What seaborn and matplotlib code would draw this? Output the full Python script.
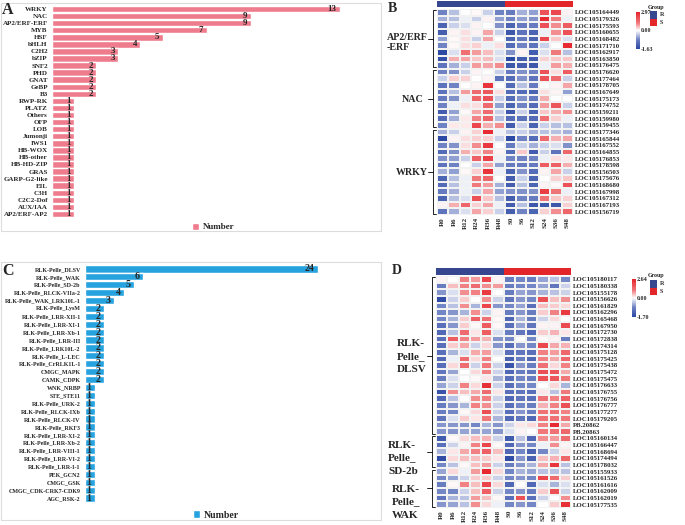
import matplotlib
matplotlib.use('Agg')
import numpy as np
import pandas as pd
import matplotlib.pyplot as plt
import seaborn as sns
from matplotlib.colors import LinearSegmentedColormap, ListedColormap, TwoSlopeNorm
from matplotlib.patches import Rectangle, Patch

# ---------------- data ----------------
tf_families = ['WRKY', 'NAC', 'AP2/ERF-ERF', 'MYB', 'HSF', 'bHLH', 'C2H2', 'bZIP',
               'SNF2', 'PHD', 'GNAT', 'GeBP', 'B3', 'RWP-RK', 'PLATZ', 'Others',
               'OFP', 'LOB', 'Jumonji', 'IWS1', 'HB-WOX', 'HB-other', 'HB-HD-ZIP',
               'GRAS', 'GARP-G2-like', 'EIL', 'C3H', 'C2C2-Dof', 'AUX/IAA', 'AP2/ERF-AP2']
tf_counts = [13, 9, 9, 7, 5, 4, 3, 3, 2, 2, 2, 2, 2,
             1, 1, 1, 1, 1, 1, 1, 1, 1, 1, 1, 1, 1, 1, 1, 1, 1]

kinase_families = ['RLK-Pelle_DLSV', 'RLK-Pelle_WAK', 'RLK-Pelle_SD-2b',
                   'RLK-Pelle_RLCK-VIIa-2', 'RLK-Pelle_WAK_LRK10L-1', 'RLK-Pelle_LysM',
                   'RLK-Pelle_LRR-XII-1', 'RLK-Pelle_LRR-XI-1', 'RLK-Pelle_LRR-Xb-1',
                   'RLK-Pelle_LRR-III', 'RLK-Pelle_LRK10L-2', 'RLK-Pelle_L-LEC',
                   'RLK-Pelle_CrRLK1L-1', 'CMGC_MAPK', 'CAMK_CDPK', 'WNK_NRBP',
                   'STE_STE11', 'RLK-Pelle_URK-2', 'RLK-Pelle_RLCK-IXb',
                   'RLK-Pelle_RLCK-IV', 'RLK-Pelle_RKF3', 'RLK-Pelle_LRR-XI-2',
                   'RLK-Pelle_LRR-Xb-2', 'RLK-Pelle_LRR-VIII-1', 'RLK-Pelle_LRR-VI-2',
                   'RLK-Pelle_LRR-I-1', 'PEK_GCN2', 'CMGC_GSK', 'CMGC_CDK-CRK7-CDK9',
                   'AGC_RSK-2']
kinase_counts = [24, 6, 5, 4, 3, 2, 2, 2, 2, 2, 2, 2, 2, 2, 2,
                 1, 1, 1, 1, 1, 1, 1, 1, 1, 1, 1, 1, 1, 1, 1]

samples = ['R0', 'R6', 'R12', 'R24', 'R36', 'R48', 'S0', 'S6', 'S12', 'S24', 'S36', 'S48']

erf_genes = ['LOC105164449', 'LOC105179326', 'LOC105175593', 'LOC105160655', 'LOC105168482',
             'LOC105171710', 'LOC105162917', 'LOC105163850', 'LOC105176475']
erf_expr = [
    [-0.8, -0.4, 0.0, 0.05, -0.3, -0.8, -0.9, -0.5, -0.6, 2.0, 2.2, 0.1],
    [-0.5, -0.4, -0.1, -0.3, 0.1, -0.6, -0.8, -0.6, -0.7, 2.8, 1.2, -0.1],
    [-1.2, -0.3, -0.2, 0.1, 0.0, -0.7, -1.2, -0.9, -0.9, 2.0, 1.0, 1.8],
    [-1.3, 0.1, 0.3, 0.1, 0.8, -0.3, -1.4, -1.0, -1.2, -0.1, 1.0, 2.0],
    [-0.6, 0.05, 0.3, -0.3, 0.8, 0.0, -1.2, -0.9, -1.2, 2.2, 0.5, -0.2],
    [-0.8, 0.05, 0.3, 0.4, -0.1, 0.3, -1.1, -0.8, -1.0, -0.3, 0.0, 2.8],
    [-1.6, -0.2, 1.4, 0.9, 0.6, -0.2, -0.7, 0.1, -1.3, -0.2, 1.2, -0.4],
    [-1.5, 0.7, 0.8, 0.5, 0.6, -0.2, -1.6, -1.3, -1.3, 0.4, 0.5, 0.5],
    [-1.0, -0.5, -0.3, 0.9, 0.8, 1.0, -1.4, -1.3, -1.4, -0.1, 0.9, 0.7],
]
nac_genes = ['LOC105176620', 'LOC105177464', 'LOC105178705', 'LOC105167649', 'LOC105175173',
             'LOC105174752', 'LOC105159211', 'LOC105159980', 'LOC105159455']
nac_expr = [
    [-0.8, -0.7, -0.3, 0.1, 0.0, -0.3, -0.9, -0.7, -0.8, 2.0, 0.3, 1.8],
    [-0.3, 0.4, 0.4, 0.0, 0.1, -1.0, -1.1, -0.7, -1.0, 2.0, 1.5, -0.3],
    [-1.0, -0.8, 0.0, 0.1, 2.6, 0.0, -1.1, -0.4, -0.9, 0.0, 0.1, 0.8],
    [-1.0, -0.4, 0.9, 1.5, 1.9, 0.3, -1.1, -1.1, -1.2, 0.3, 0.1, -0.6],
    [-0.9, -0.7, -0.1, 1.6, 2.0, -0.3, -1.1, -0.7, -0.9, 0.7, 0.0, 0.0],
    [-0.8, -0.1, 0.3, 0.3, 1.5, -0.6, -1.2, -0.8, -1.1, 0.9, 1.9, -0.3],
    [-1.3, -0.6, 0.05, 0.8, 1.5, -0.3, -1.4, -0.3, -1.2, 0.5, 0.7, 1.0],
    [-1.1, -0.5, 0.2, 1.1, 1.6, -0.4, -1.1, -1.0, -1.1, 1.4, 0.4, -0.1],
    [-0.8, 0.2, 0.2, 2.2, 0.7, 1.0, -1.3, -0.3, -1.2, -0.3, -0.4, -0.4],
]
wrky_genes = ['LOC105177346', 'LOC105165844', 'LOC105167552', 'LOC105164855', 'LOC105176853',
              'LOC105178598', 'LOC105156503', 'LOC105175676', 'LOC105168680', 'LOC105167998',
              'LOC105167312', 'LOC105167193', 'LOC105156719']
wrky_expr = [
    [-0.5, -0.3, 0.1, 0.4, 2.8, -0.1, -0.4, -0.3, -0.5, -0.4, -0.4, -0.5],
    [-1.6, 0.1, 0.3, 0.4, 0.4, -0.3, -1.6, -0.8, -1.1, 1.5, 0.7, 0.8],
    [-0.8, -0.7, 0.3, 1.0, 2.5, 0.0, -0.9, -0.3, -0.5, -0.3, -0.2, -0.7],
    [-1.1, -0.7, 0.7, 0.5, 1.1, 0.1, -1.1, 0.5, -1.3, -0.3, -1.0, 1.6],
    [-0.7, -0.6, -0.3, 1.7, 2.3, -0.1, -0.8, -0.8, -0.8, -0.1, 0.3, 0.2],
    [-1.0, -0.8, 0.0, -0.3, 0.8, -0.6, -0.9, -0.9, -0.9, 1.8, 1.7, 0.7],
    [-0.5, -0.6, 0.05, 0.4, 2.6, -0.1, -1.2, -0.7, -1.1, 0.1, 0.8, -0.3],
    [-1.2, -0.4, -0.1, 1.2, 1.6, 0.0, -1.3, -0.3, -1.2, 0.0, 0.4, 0.5],
    [-1.1, -0.4, -0.1, 1.2, 0.9, -0.5, -1.3, -0.4, -1.2, 0.1, 0.05, 2.0],
    [-0.9, -0.5, -0.1, -0.3, 0.8, -0.6, -0.7, -0.7, -0.7, 2.4, 1.3, -0.1],
    [-1.2, -0.4, -0.2, 2.0, 0.5, -0.4, -1.3, -0.8, -0.9, 1.3, 0.5, 0.4],
    [0.1, 0.7, 1.6, 0.4, 0.8, -0.1, -1.3, -0.4, -1.4, -1.4, -1.4, 0.4],
    [-1.0, -0.5, -0.2, 0.8, 0.4, -0.3, -1.3, -0.8, -1.2, 0.4, 1.0, 1.6],
]

dlsv_genes = ['LOC105180117', 'LOC105180338', 'LOC105155178', 'LOC105156626', 'LOC105161829',
              'LOC105162296', 'LOC105165468', 'LOC105167950', 'LOC105172730', 'LOC105172838',
              'LOC105174314', 'LOC105175128', 'LOC105175425', 'LOC105175438', 'LOC105175472',
              'LOC105175475', 'LOC105176633', 'LOC105176755', 'LOC105176756', 'LOC105176777',
              'LOC105177277', 'LOC105179205', 'PB.20862', 'PB.20863']
dlsv_expr = [
    [0.1, 0.0, 1.0, 0.8, 2.0, 0.1, -0.9, -0.8, -0.9, -0.6, -0.4, -0.8],
    [-0.9, 0.5, 1.0, 1.3, 0.9, 0.8, -0.9, -0.8, -0.8, -0.6, -1.0, -0.3],
    [-0.7, -0.2, 0.9, 1.0, 2.2, 0.0, -0.9, -0.6, -0.7, -0.5, -0.4, -0.3],
    [-1.6, -0.3, 0.4, 0.0, 0.9, -0.3, -1.0, -0.7, -0.8, 1.8, 0.5, 0.9],
    [-0.8, -0.4, 0.9, -0.5, 2.0, -0.7, -0.8, -0.6, -1.1, 0.5, 0.4, 0.3],
    [-0.8, -0.7, -0.5, 0.9, -0.3, 0.1, -0.9, -0.7, -0.9, 0.4, 1.0, 2.2],
    [-0.8, -0.5, 0.4, 1.5, 1.2, 0.05, -1.2, -0.5, -0.9, -0.3, 0.3, 0.0],
    [-1.1, -0.7, 0.4, 0.05, 1.6, 0.05, -1.1, -0.6, -1.0, 0.1, 0.1, 1.9],
    [-1.2, -0.4, 1.3, 0.2, 1.6, -0.2, -0.9, -1.0, -1.2, 0.4, 0.6, 0.2],
    [-1.1, 1.6, 1.0, 0.8, 0.6, -0.7, -0.8, 0.0, -0.8, 0.05, 0.1, -0.9],
    [-1.1, 0.4, 0.7, -0.3, 0.3, -0.7, -1.1, -0.7, -0.8, 2.0, 0.7, 0.6],
    [-1.1, -0.5, -0.2, 0.7, 0.8, -0.2, -1.1, -1.0, -1.1, 1.0, 0.8, 1.4],
    [-1.2, -0.1, 1.3, 0.3, 1.0, 0.0, -1.3, -0.9, -1.2, 1.0, 0.7, 1.4],
    [-1.1, 0.3, 1.3, -0.3, 1.1, -0.3, -1.5, -0.7, -0.9, 1.2, 0.3, 1.0],
    [-1.0, -0.6, 0.0, 0.3, 1.0, -0.3, -1.2, -0.9, -1.0, 1.8, 1.7, 0.7],
    [-0.9, -0.2, 0.0, 0.05, 0.2, -0.5, -1.1, -0.8, -0.9, 1.8, 1.7, 1.1],
    [-0.6, -0.3, 1.0, 0.3, 2.4, -0.3, -1.1, -0.8, -0.8, 0.0, 0.3, -0.5],
    [-1.5, 0.9, 0.5, 0.7, 1.3, 0.2, -1.1, -1.0, -1.1, 0.2, -0.4, 1.1],
    [-1.2, -0.4, 0.0, 0.9, 1.0, -0.3, -1.2, -1.0, -1.1, 1.2, 1.0, 1.5],
    [-0.9, -0.7, -0.5, 1.0, 0.9, -0.3, -1.1, -0.8, -0.9, 0.6, 1.0, 1.8],
    [-0.9, -0.8, 0.05, 0.3, 1.8, -0.3, -1.1, -0.7, -0.9, 1.2, 1.2, 1.0],
    [-1.0, -0.2, 0.4, 0.2, 1.1, -0.5, -1.2, -1.0, -1.2, 1.2, 1.2, 1.1],
    [-0.7, -0.7, -0.7, -0.8, -0.5, -0.7, -0.3, 0.2, 0.3, 1.0, 2.5, 0.7],
    [-0.7, -0.7, -0.6, -0.6, -0.6, -0.7, -0.2, 0.1, 0.0, 1.1, 1.2, 1.4],
]
sd2b_genes = ['LOC105160134', 'LOC105166447', 'LOC105168694', 'LOC105174494', 'LOC105178032']
sd2b_expr = [
    [-1.4, 0.05, 0.3, 0.5, 0.6, -0.3, -1.4, -0.4, -1.2, 0.9, 0.8, 1.3],
    [-1.1, -0.3, 0.1, 1.0, 2.0, 0.05, -1.2, -0.7, -0.8, -0.1, 0.9, 0.1],
    [-0.5, 0.2, 0.7, 1.0, 1.5, 0.5, -1.2, -0.8, -1.3, -0.8, -0.3, 0.2],
    [-1.6, 0.3, 0.5, 0.5, 0.4, 0.2, -1.6, -0.7, -1.3, 0.5, 0.6, 1.4],
    [-0.8, -0.4, 0.05, 0.5, 0.8, -0.3, -0.9, -0.7, -0.5, 0.7, 2.3, -0.4],
]
wak_genes = ['LOC105155933', 'LOC105161526', 'LOC105161616', 'LOC105162009', 'LOC105162019',
             'LOC105177535']
wak_expr = [
    [-0.6, 0.3, -0.1, 0.8, 2.5, 0.3, -0.8, -0.5, -0.6, -0.4, -0.4, -0.4],
    [-0.8, -0.6, -0.3, 0.4, 0.4, -0.3, -0.8, -0.7, -0.8, 2.0, 1.3, 0.4],
    [-0.9, 0.05, 1.0, 0.5, 2.0, 0.3, -1.2, 0.0, -1.2, -0.2, -0.5, -0.2],
    [-0.8, -0.8, -0.3, 0.5, 1.5, -0.3, -0.8, -0.7, -0.9, 0.4, 1.8, -0.3],
    [-1.0, -0.5, -0.4, 0.8, 0.5, 0.05, -1.1, 1.8, -1.1, -0.3, 0.0, 0.9],
    [-0.7, -0.6, -0.4, 0.9, 0.3, -0.1, -0.8, -0.7, -0.8, 0.0, 0.4, 2.4],
]
range_b = (-1.63, 2.97)
range_d = (-1.70, 2.64)

# ---------------- style ----------------
W, H = 685, 525
PINK = '#EE7C8C'
BLUE = '#26A3DE'
NAVY = '#36478F'
RED = '#E3262A'
# steeper near white so mid values read as in the original
heat_cmap = LinearSegmentedColormap.from_list(
    'bwr_heat', [(0.0, '#2A47A2'), (0.25, '#6C80C2'), (0.5, '#FFFFFF'),
                 (0.7, '#F07A7D'), (1.0, '#E6222A')])

sns.set_theme(style='white')
plt.rcParams['font.family'] = ['Liberation Serif', 'DejaVu Serif']
plt.rcParams['font.weight'] = 'bold'

fig = plt.figure(figsize=(W / 100, H / 100), dpi=100)


def px(x, y):
    return x / W, 1 - y / H


def ftext(x, y, s, **kw):
    fx, fy = px(x, y)
    fig.text(fx, fy, s, **kw)


def box(left, top, right, bottom):
    return [left / W, 1 - bottom / H, (right - left) / W, (bottom - top) / H]


def draw_bars(rect, names, counts, color, xmax, label_fs, value_fs, legend_pos, legend_fs):
    ax = fig.add_axes(rect)
    df = pd.DataFrame({'family': names, 'count': counts, 'series': 'Number'})
    sns.barplot(data=df, x='count', y='family', hue='series', palette={'Number': color},
                width=0.92, saturation=1, legend=False, ax=ax)
    ax.set_xlim(0, xmax)
    ax.set_xticks([])
    ax.set_xlabel('')
    ax.set_ylabel('')
    sns.despine(ax=ax, left=True, bottom=True)
    ax.tick_params(axis='y', length=0, pad=3, labelsize=label_fs)
    for i, v in enumerate(counts):
        ax.annotate(str(v), xy=(v, i), xytext=(-2.5, 0), textcoords='offset points',
                    ha='right', va='center', fontsize=value_fs, fontweight='bold')
    ax.legend(handles=[Patch(facecolor=color, label='Number')], loc='center',
              bbox_to_anchor=px(*legend_pos), bbox_transform=fig.transFigure,
              frameon=False, fontsize=legend_fs, handlelength=0.8, handleheight=0.8,
              handletextpad=0.4, borderpad=0)
    return ax


def draw_heatmap(blocks, rect, group_rect, cbar_rect, vrange):
    genes = [g for names, _ in blocks for g in names]
    values = [row for _, mat in blocks for row in mat]
    df = pd.DataFrame(values, index=genes, columns=samples)
    ax = fig.add_axes(rect)
    cax = fig.add_axes(cbar_rect)
    norm = TwoSlopeNorm(vmin=vrange[0], vcenter=0, vmax=vrange[1])
    sns.heatmap(df, cmap=heat_cmap, norm=norm, ax=ax, cbar_ax=cax,
                xticklabels=True, yticklabels=True, linewidths=0.15, linecolor='#f2f2f2')
    ax.yaxis.tick_right()
    ax.set_yticklabels(genes, rotation=0, fontsize=4.9)
    ax.set_xticklabels(samples, rotation=90, fontsize=5)
    ax.tick_params(axis='both', length=0, pad=1.5)
    ax.set_xlabel('')
    ax.set_ylabel('')
    cbar = ax.collections[0].colorbar
    cbar.set_ticks([vrange[0], 0, vrange[1]])
    cbar.set_ticklabels(['%.2f' % vrange[0], '0.00', '%.2f' % vrange[1]])
    cbar.ax.tick_params(labelsize=4.3, length=0, pad=1)
    cbar.outline.set_visible(False)

    # group strip on top
    gax = fig.add_axes(group_rect)
    strip = pd.DataFrame([[0 if s.startswith('R') else 1 for s in samples]], columns=samples)
    sns.heatmap(strip, cmap=ListedColormap([NAVY, RED]), vmin=0, vmax=1, cbar=False,
                xticklabels=False, yticklabels=False, ax=gax)

    # brackets to the left of the rows
    start = 0
    for names, _ in blocks:
        end = start + len(names)
        y0, y1 = start + 0.2, end - 0.2
        ax.plot([-0.1, -0.38, -0.38, -0.1], [y0, y0, y1, y1], color='black', lw=0.6,
                clip_on=False)
        mid = (start + end) / 2
        ax.plot([-0.38, -0.8], [mid, mid], color='black', lw=0.6, clip_on=False)
        start = end
    return ax


def group_legend(top):
    ftext(656, top, 'Group', fontsize=4.3, ha='center', va='center')
    for k, (lab, col) in enumerate([('R', NAVY), ('S', RED)]):
        x0, y0 = px(650, top + 4 + 7.5 * (k + 1))
        fig.add_artist(Rectangle((x0, y0), 7 / W, 7.5 / H, transform=fig.transFigure,
                                 facecolor=col, edgecolor='none'))
        ftext(660, top + 7.8 + 7.5 * k, lab, fontsize=4.3, ha='left', va='center')


# ---------------- panel frames ----------------
for top, bottom in [(2.5, 231), (262, 520)]:
    x0, y0 = px(0.5, bottom)
    fig.add_artist(Rectangle((x0, y0), 380.5 / W, (bottom - top) / H,
                             transform=fig.transFigure, fill=False,
                             edgecolor='#dcdcdc', lw=0.8))

# ---------------- A ----------------
draw_bars(box(52, 5.5, 344, 217.5), tf_families, tf_counts, PINK, 13.2,
          5.0, 6.5, (213, 227), 6.5)
ftext(2, 10, 'A', fontsize=11.5, ha='left', va='center')

# ---------------- C ----------------
draw_bars(box(85, 265, 323, 502), kinase_families, kinase_counts, BLUE, 24.5,
          4.3, 7.2, (216, 515), 7.0)
ftext(2, 271, 'C', fontsize=11.5, ha='left', va='center')

# ---------------- B ----------------
draw_heatmap([(erf_genes, erf_expr), (nac_genes, nac_expr), (wrky_genes, wrky_expr)],
             box(437, 9, 573, 215), box(437, 0.5, 573, 6.5), box(636, 12, 639.5, 49),
             range_b)
ftext(388, 9, 'B', fontsize=10, ha='left', va='center')
ftext(387, 38, 'AP2/ERF', fontsize=7.2, ha='left', va='center')
ftext(387, 48, '-ERF', fontsize=7.2, ha='left', va='center')
ftext(424, 99, 'NAC', fontsize=7.2, ha='right', va='center')
ftext(428, 172, 'WRKY', fontsize=7.2, ha='right', va='center')
group_legend(7)

# ---------------- D ----------------
draw_heatmap([(dlsv_genes, dlsv_expr), (sd2b_genes, sd2b_expr), (wak_genes, wak_expr)],
             box(436, 276, 571, 508), box(436, 268, 571, 275), box(632, 279, 635.5, 317),
             range_d)
ftext(392, 271, 'D', fontsize=10, ha='left', va='center')
for x, ys, lines in [(397, (344, 357, 370), ('RLK-', 'Pelle_', 'DLSV')),
                     (388, (445, 458, 471), ('RLK-', 'Pelle_', 'SD-2b')),
                     (392, (489, 502, 515), ('RLK-', 'Pelle_', 'WAK'))]:
    for y, s in zip(ys, lines):
        ftext(x, y, s, fontsize=8, ha='left', va='center')
group_legend(276)

fig.savefig('out.png', dpi=100)
